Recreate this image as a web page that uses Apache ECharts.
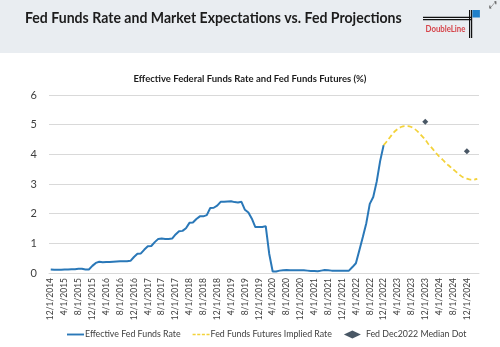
<!DOCTYPE html>
<html>
<head>
<meta charset="utf-8">
<script src="https://cdn.jsdelivr.net/npm/echarts@6/dist/echarts.min.js"></script>
<style>html,body{margin:0;padding:0;background:#fff;}#c{width:500px;height:347px;}</style>
</head>
<body>
<div id="c"></div>
<script>
// Monthly categories from 12/1/2014 through 3/1/2025
var startYear = 2014, startMonth = 12, monthCount = 124;
var categories = [];
for (var i = 0; i < monthCount; i++) {
  var mm = (startMonth - 1 + i) % 12 + 1;
  var yy = startYear + Math.floor((startMonth - 1 + i) / 12);
  categories.push(mm + '/1/' + yy);
}

// Effective Fed Funds Rate, 12/2014 .. 12/2022 (monthly)
var effectiveRate = [
  0.12,
  0.11,0.11,0.11,0.12,0.12,0.13,0.13,0.14,0.14,0.12,0.12,0.24,
  0.34,0.38,0.36,0.37,0.37,0.38,0.39,0.40,0.40,0.40,0.41,0.54,
  0.65,0.66,0.79,0.90,0.91,1.04,1.15,1.16,1.15,1.15,1.16,1.30,
  1.41,1.42,1.51,1.69,1.70,1.82,1.91,1.91,1.95,2.19,2.20,2.27,
  2.40,2.40,2.41,2.42,2.39,2.38,2.40,2.13,2.04,1.83,1.55,1.55,
  1.55,1.58,0.65,0.05,0.05,0.08,0.09,0.10,0.09,0.09,0.09,0.09,
  0.09,0.08,0.07,0.07,0.06,0.08,0.10,0.09,0.08,0.08,0.08,0.08,
  0.08,0.08,0.20,0.33,0.77,1.21,1.68,2.33,2.56,3.08,3.78,4.31
];

// Fed Funds Futures implied rate, 12/2022 .. 3/2025
var futuresRate = [
  4.31,4.45,4.60,4.75,4.85,4.92,4.95,4.95,4.92,4.85,4.75,4.62,
  4.50,4.33,4.20,4.06,3.93,3.82,3.70,3.60,3.50,3.40,3.30,3.22,
  3.18,3.15,3.15,3.17
];
var futuresStart = '12/1/2022';

// Fed Dec2022 median dots
var dotDates = ['12/1/2023', '12/1/2024'];
var dotValues = [5.1, 4.1];

var yTicks = [0, 1, 2, 3, 4, 5, 6];

var effData = categories.map(function (c, i) { return i < effectiveRate.length ? effectiveRate[i] : null; });
var fStart = categories.indexOf(futuresStart);
var futData = categories.map(function (c, i) {
  var k = i - fStart; return (k >= 0 && k < futuresRate.length) ? futuresRate[k] : null;
});
var dotData = categories.map(function (c) {
  var k = dotDates.indexOf(c); return k >= 0 ? dotValues[k] : null;
});

var BLUE = '#2a78b8', GOLD = '#f3d23a', NAVY = '#1b2d3f';
var chart = echarts.init(document.getElementById('c'), null, {renderer: 'canvas'});
var FONT = 'Lato';
chart.setOption({
  animation: false,
  backgroundColor: '#ffffff',
  textStyle: {fontFamily: FONT},
  graphic: [
    {type: 'rect', left: 0, top: 0, z: -10, shape: {width: 500, height: 53}, style: {fill: '#e9edf1'}},
    {type: 'text', left: 25, top: 10, scaleX: 0.88, style: {text: 'Fed Funds Rate and Market Expectations vs. Fed Projections', font: 'bold 16px Lato', fill: '#1c1c1c'}},
    // DoubleLine logo
    {type: 'rect', shape: {x: 423, y: 16.8, width: 49, height: 1.2}, style: {fill: '#111'}},
    {type: 'rect', shape: {x: 423, y: 19, width: 49, height: 1.2}, style: {fill: '#111'}},
    {type: 'rect', shape: {x: 469, y: 10, width: 1.2, height: 28}, style: {fill: '#111'}},
    {type: 'rect', shape: {x: 471, y: 10, width: 1.2, height: 28}, style: {fill: '#111'}},
    {type: 'rect', shape: {x: 472.4, y: 10, width: 7.5, height: 7.5}, style: {fill: '#1f7fc9'}},
    {type: 'text', x: 425.5, y: 24.5, scaleX: 0.87, style: {text: 'DoubleLine', font: 'bold 9px Lato', fill: '#d6454b'}},
    {type: 'text', x: 489, y: 0, style: {text: '⤢', font: '10px DejaVu Sans', fill: '#555'}},
    {type: 'text', left: 'center', top: 74, style: {text: 'Effective Federal Funds Rate and Fed Funds Futures (%)', font: 'bold 9.5px Lato', fill: '#1c1c1c'}}
  ],
  grid: {left: 49, right: 21, top: 95, bottom: 74, containLabel: false},
  legend: {
    top: 325, left: 62, itemWidth: 17, itemHeight: 8, itemGap: 12,
    textStyle: {fontFamily: FONT, fontSize: 8.8, color: '#404040', padding: [0, 0, 0, -4]},
    data: [
      {name: 'Effective Fed Funds Rate', icon: 'path://M0,0H18V2H0Z', itemStyle: {color: BLUE}},
      {name: 'Fed Funds Futures Implied Rate', icon: 'path://M0,0H4V2H0Z M6,0H10V2H6Z M12,0H16V2H12Z M18,0H22V2H18Z', itemStyle: {color: GOLD}},
      {name: 'Fed Dec2022 Median Dot', icon: 'diamond', itemStyle: {color: NAVY}, textStyle: {padding: [0, 0, 0, 0]}}
    ]
  },
  xAxis: {
    type: 'category', data: categories, boundaryGap: true,
    axisLine: {show: true, lineStyle: {color: '#d9d9d9'}},
    axisTick: {show: false},
    axisLabel: {interval: 3, rotate: 90, fontSize: 8.5, color: '#404040', fontFamily: FONT, margin: 5}
  },
  yAxis: {
    type: 'value', min: yTicks[0], max: yTicks[yTicks.length - 1], interval: 1,
    axisLine: {show: false}, axisTick: {show: false},
    axisLabel: {fontSize: 11, color: '#404040', fontFamily: FONT, margin: 12},
    splitLine: {lineStyle: {color: '#d9d9d9', width: 1}}
  },
  series: [
    {name: 'Effective Fed Funds Rate', type: 'line', data: effData, symbol: 'none',
     lineStyle: {color: BLUE, width: 2}, itemStyle: {color: BLUE}},
    {name: 'Fed Funds Futures Implied Rate', type: 'line', data: futData, symbol: 'none', smooth: 0.3,
     lineStyle: {color: GOLD, width: 1.8, type: [5, 3]}, itemStyle: {color: GOLD}},
    {name: 'Fed Dec2022 Median Dot', type: 'scatter', data: dotData, symbol: 'diamond', symbolSize: 6,
     itemStyle: {color: NAVY}}
  ]
});
</script>
</body>
</html>
